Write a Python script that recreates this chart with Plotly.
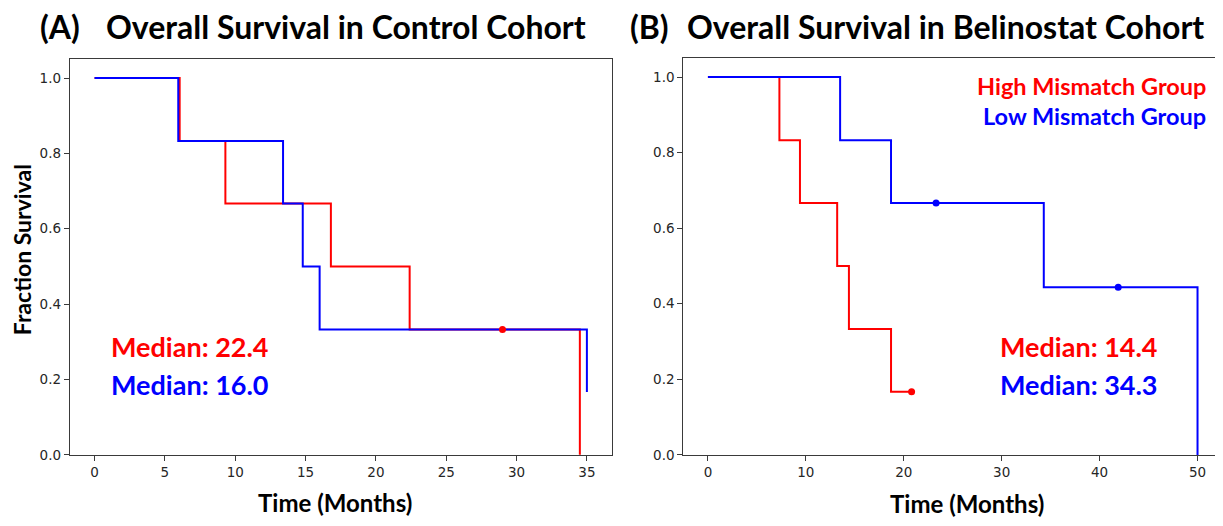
import plotly.graph_objects as go

# ---------------- data ----------------
# Panel A: Control cohort
a_high_t = [0, 6.05, 9.3, 16.8, 22.4, 34.5]
a_high_s = [1.0, 0.833, 0.667, 0.5, 0.333, 0.0]
a_high_cens_t = [29.0]
a_high_cens_s = [0.333]

a_low_t = [0, 5.95, 13.4, 14.8, 16.0, 35.0]
a_low_s = [1.0, 0.833, 0.667, 0.5, 0.333, 0.167]

# Panel B: Belinostat cohort
b_high_t = [0, 7.3, 9.4, 13.2, 14.4, 18.7, 20.8]
b_high_s = [1.0, 0.833, 0.667, 0.5, 0.333, 0.167, 0.167]
b_high_cens_t = [20.8]
b_high_cens_s = [0.167]

b_low_t = [0, 13.5, 18.7, 34.3, 50.0]
b_low_s = [1.0, 0.833, 0.667, 0.444, 0.0]
b_low_cens_t = [23.3, 41.9]
b_low_cens_s = [0.667, 0.444]

a_xticks = [0, 5, 10, 15, 20, 25, 30, 35]
b_xticks = [0, 10, 20, 30, 40, 50]
y_ticks = [0.0, 0.2, 0.4, 0.6, 0.8, 1.0]

medians_a = ["Median: 22.4", "Median: 16.0"]
medians_b = ["Median: 14.4", "Median: 34.3"]
groups = ["High Mismatch Group", "Low Mismatch Group"]

RED = "#ff0000"
BLUE = "#0000ff"

# the page has an 8px body margin on every side; size the figure so the page is exactly the window
OFF = 8
W, H = 1223 - OFF, 526 - 2 * OFF

fig = go.Figure()

def step(t, s, color, xa, ya):
    fig.add_trace(go.Scatter(x=t, y=s, mode="lines", line=dict(color=color, width=2, shape="hv"),
                             xaxis=xa, yaxis=ya, showlegend=False, hoverinfo="skip"))

def cens(t, s, color, xa, ya):
    fig.add_trace(go.Scatter(x=t, y=s, mode="markers", marker=dict(color=color, size=7),
                             xaxis=xa, yaxis=ya, showlegend=False, hoverinfo="skip"))

step(a_high_t, a_high_s, RED, "x", "y")
step(a_low_t, a_low_s, BLUE, "x", "y")
cens(a_high_cens_t, a_high_cens_s, RED, "x", "y")

step(b_high_t, b_high_s, RED, "x2", "y2")
step(b_low_t, b_low_s, BLUE, "x2", "y2")
cens(b_high_cens_t, b_high_cens_s, RED, "x2", "y2")
cens(b_low_cens_t, b_low_cens_s, BLUE, "x2", "y2")

def px(x):
    return min(1.0, (x - OFF) / W)

def py(y):
    return 1 - (y - OFF) / H

tickfont = dict(family="DejaVu Sans", size=13.5, color="#262626")
common = dict(showgrid=False, zeroline=False, showline=True, linecolor="#3a3a3a", linewidth=1.3,
              mirror=True, ticks="outside", ticklen=5, tickwidth=1, tickcolor="#3a3a3a",
              tickfont=tickfont)

fig.update_layout(
    width=W, height=H,
    margin=dict(l=0, r=0, t=0, b=0),
    paper_bgcolor="white", plot_bgcolor="white",
    xaxis=dict(domain=[px(70), px(612)], range=[-1.75, 36.75], tickvals=a_xticks,
               anchor="y", **common),
    yaxis=dict(domain=[py(462), py(60)], range=[0, 1.05], tickvals=y_ticks, tickformat=".1f",
               anchor="x", **common),
    xaxis2=dict(domain=[px(684), 1.0], range=[-2.5, 52.5], tickvals=b_xticks,
                anchor="y2", **common),
    yaxis2=dict(domain=[py(462), py(59)], range=[0, 1.05], tickvals=y_ticks, tickformat=".1f",
                anchor="x2", **common),
)

BOLD = "Lato"
def ann(text, x, y, size, color="black", xanchor="left", angle=0):
    fig.add_annotation(text="<b>%s</b>" % text, x=px(x), y=py(y), xref="paper", yref="paper",
                       xanchor=xanchor, yanchor="middle", showarrow=False, textangle=angle,
                       borderpad=0, font=dict(family=BOLD, size=size, color=color))

# titles
ann("(A)", 39, 26.5, 32)
ann("Overall Survival in Control Cohort", 105, 26.5, 32)
ann("(B)", 630, 26.5, 32)
ann("Overall Survival in Belinostat Cohort", 687, 26.5, 32)

# axis titles
ann("Fraction Survival", 22, 253, 23, xanchor="center", angle=-90)
ann("Time (Months)", 335, 510, 24, xanchor="center")
ann("Time (Months)", 968, 511, 24, xanchor="center")

# medians
ann(medians_a[0], 110, 352, 27, RED)
ann(medians_a[1], 110, 390, 27, BLUE)
ann(medians_b[0], 1000, 352, 27, RED)
ann(medians_b[1], 1000, 391, 27, BLUE)

# group labels
ann(groups[0], 1208, 87, 23.5, RED, xanchor="right")
ann(groups[1], 1208, 118, 23.5, BLUE, xanchor="right")

fig.write_html("out.html")
